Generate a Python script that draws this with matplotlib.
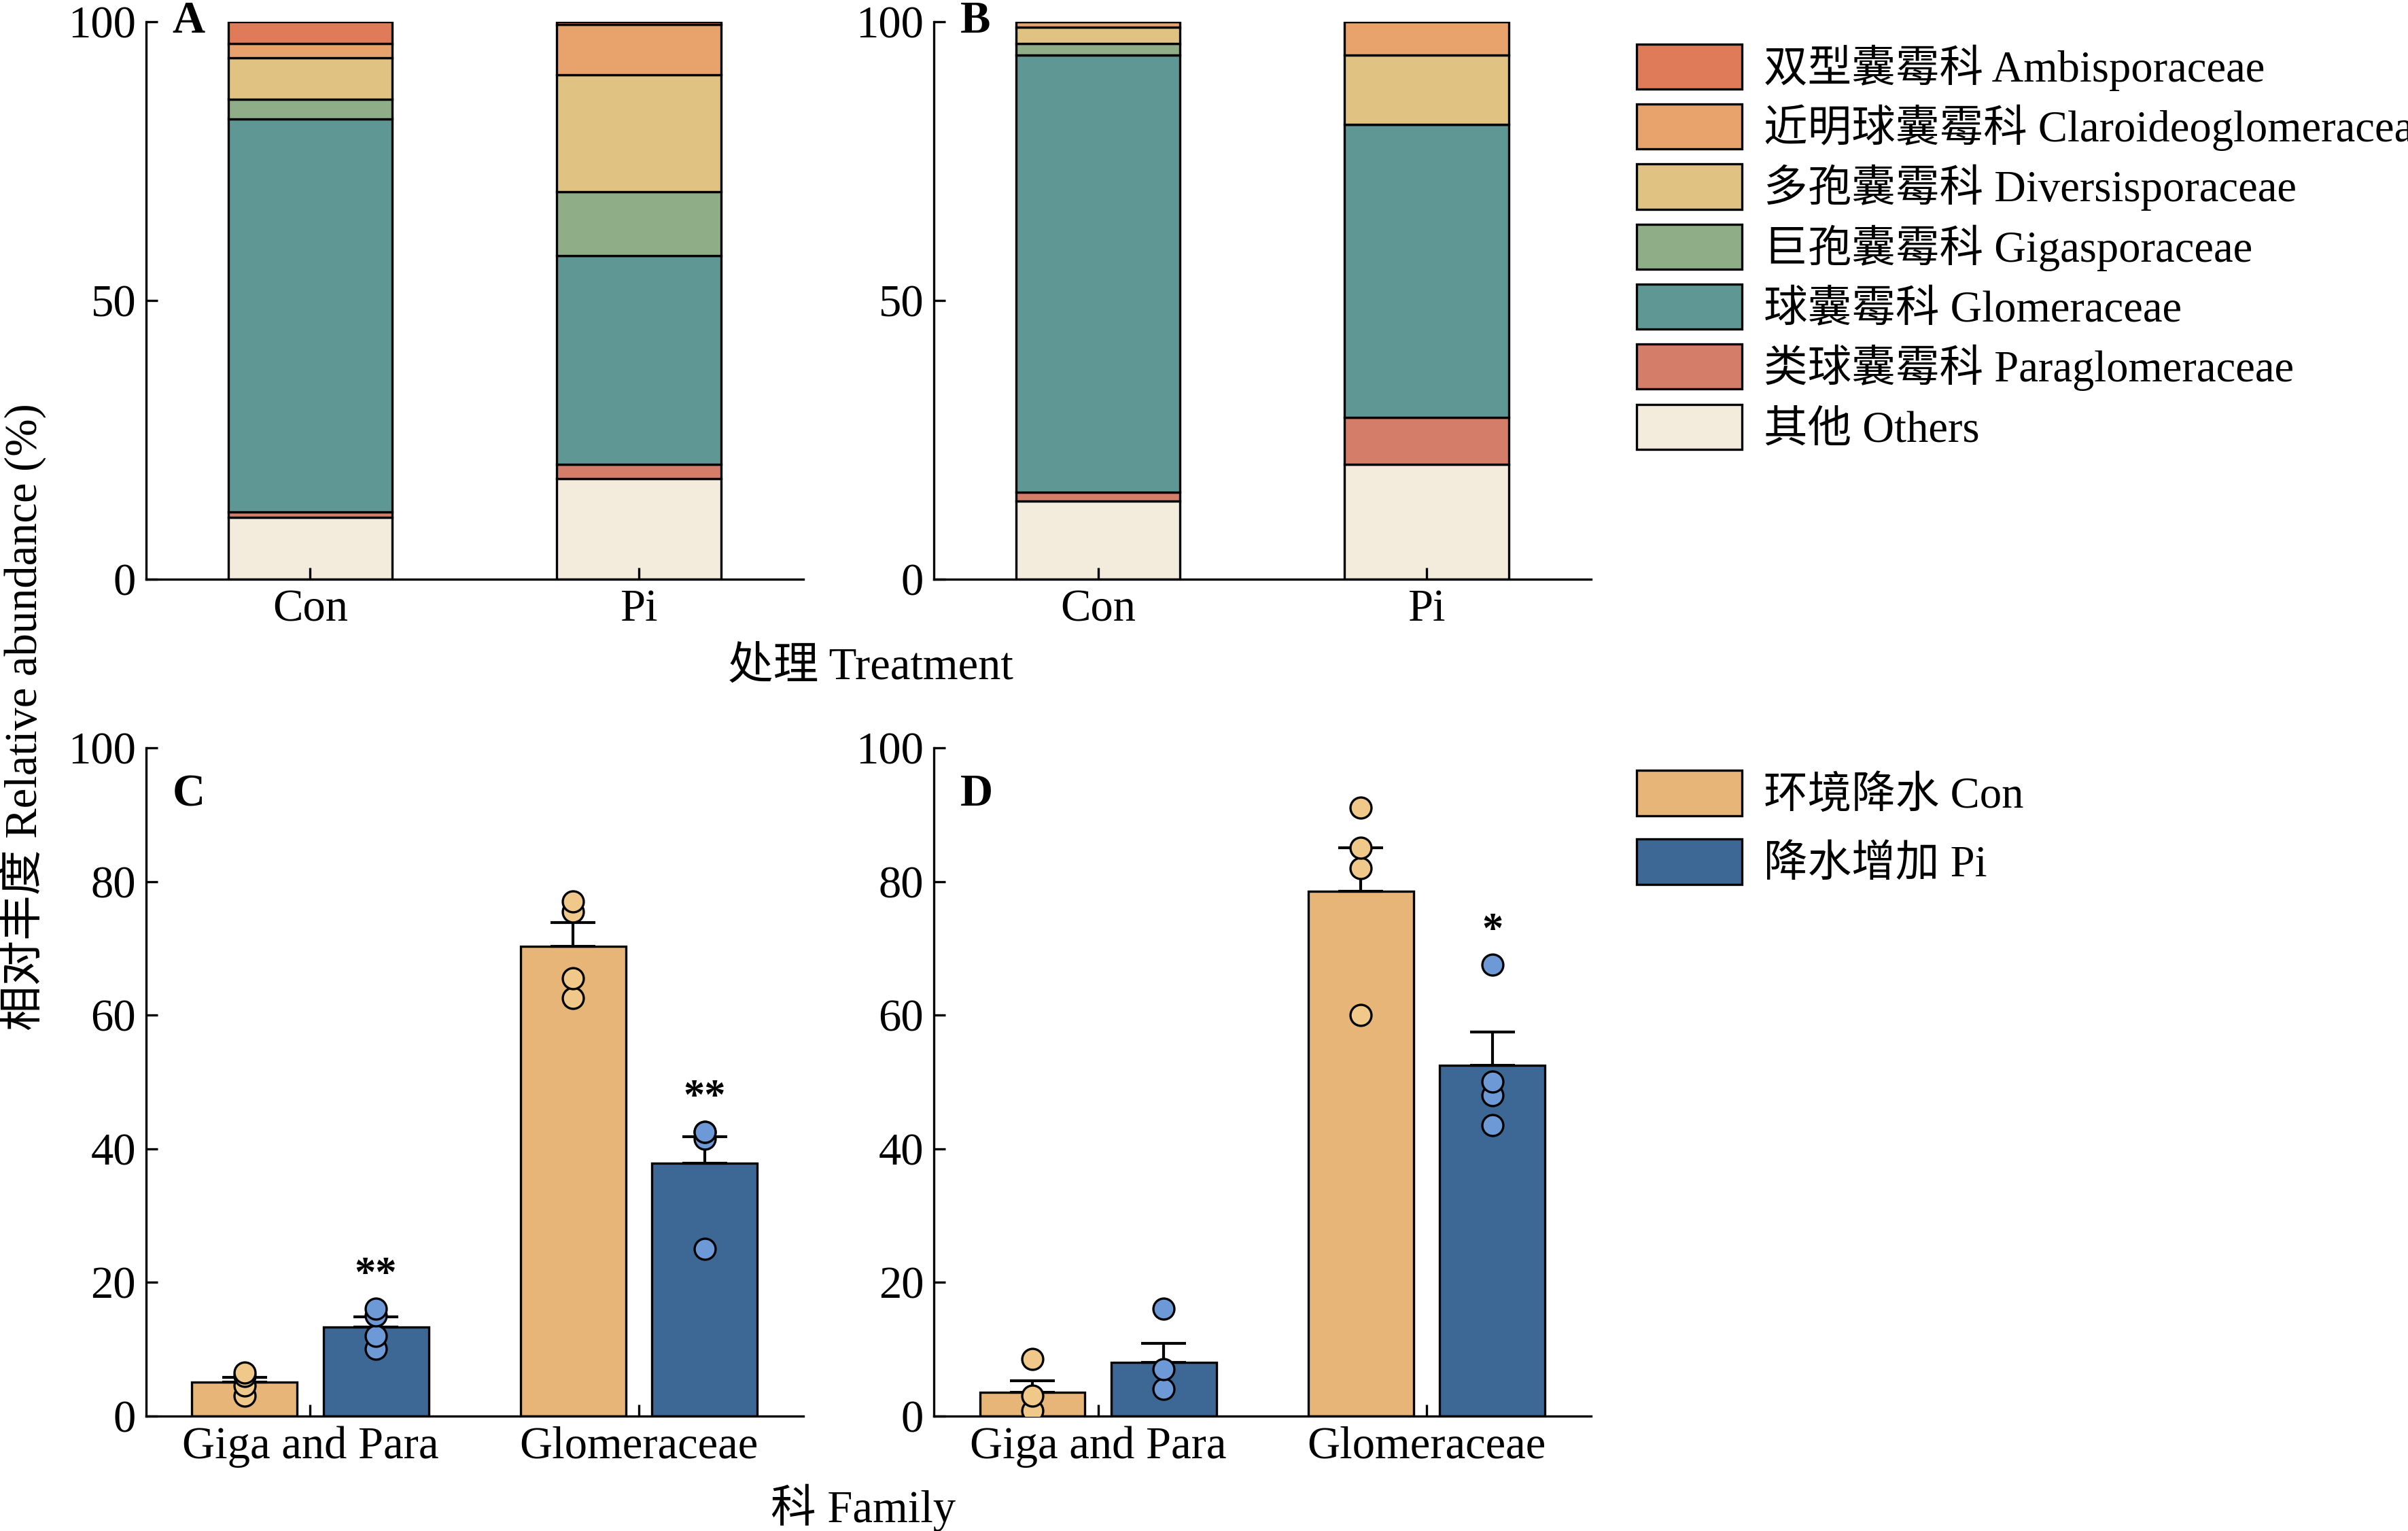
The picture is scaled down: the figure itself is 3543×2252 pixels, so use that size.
import numpy as np
import matplotlib.pyplot as plt

plt.rcParams['font.family'] = ['Liberation Serif', 'Noto Sans CJK SC']
plt.rcParams['font.size'] = 15

# stacked composition (bottom -> top)
families = ['其他 Others', '类球囊霉科 Paraglomeraceae', '球囊霉科 Glomeraceae',
            '巨孢囊霉科 Gigasporaceae', '多孢囊霉科 Diversisporaceae',
            '近明球囊霉科 Claroideoglomeraceae', '双型囊霉科 Ambisporaceae']
fam_colors = ['#f3ecdc', '#d47d69', '#5e9794', '#8fad87', '#e0c283', '#e8a36d', '#e07b5a']
treat = ['Con', 'Pi']
A_con = [11, 1, 70.5, 3.5, 7.5, 2.5, 4]
A_pi = [18, 2.5, 37.5, 11.5, 21, 9, 0.5]
B_con = [14, 1.5, 78.5, 2, 3, 1, 0]
B_pi = [20.5, 8.5, 52.5, 0, 12.5, 6, 0]

# family comparison
groups = ['Giga and Para', 'Glomeraceae']
C_con_mean = [5.0, 70.3]; C_con_err = [0.8, 3.5]
C_pi_mean = [13.3, 37.8]; C_pi_err = [1.5, 4.0]
C_con_pts = [[3, 4.5, 6, 6.5], [62.5, 65.5, 75.5, 77]]
C_pi_pts = [[10, 12, 15, 16], [25, 41.5, 42.5, 42.5]]
C_sig = ['**', '**']
D_con_mean = [3.5, 78.5]; D_con_err = [1.7, 6.5]
D_pi_mean = [8.0, 52.5]; D_pi_err = [2.8, 5.0]
D_con_pts = [[0.8, 3, 8.5], [60, 82, 85, 91]]
D_pi_pts = [[4, 7, 16], [43.5, 48, 50, 67.5]]
D_sig = ['', '*']

con_c, pi_c = '#e6b577', '#3d6896'
con_pt, pi_pt = '#f0c88a', '#6d9ad6'

fig = plt.figure(figsize=(3543 / 300, 2252 / 300), dpi=300)
W, H = 1568, 997
def ax_at(l, t, r, b):
    return fig.add_axes([l / W, 1 - b / H, (r - l) / W, (b - t) / H])

axA = ax_at(95, 14, 523, 377)
axB = ax_at(608, 14, 1036, 377)
axC = ax_at(95, 487, 523, 922)
axD = ax_at(608, 487, 1036, 922)

def style(ax):
    for s in ['top', 'right']:
        ax.spines[s].set_visible(False)
    ax.tick_params(direction='in', length=4, labelsize=16)
    ax.set_xlim(-0.5, 1.5)
    ax.set_ylim(0, 100)

for ax, con, pi, lab in [(axA, A_con, A_pi, 'A'), (axB, B_con, B_pi, 'B')]:
    x = np.arange(2)
    bottom = np.zeros(2)
    for i, (f, c) in enumerate(zip(families, fam_colors)):
        vals = np.array([con[i], pi[i]])
        ax.bar(x, vals, 0.5, bottom=bottom, color=c, edgecolor='black', linewidth=0.8, label=f)
        bottom += vals
    style(ax)
    ax.set_xticks(x, treat)
    ax.set_yticks([0, 50, 100])
    ax.text(-0.42, 100, lab, fontweight='bold', fontsize=16, va='center')

h, l = axA.get_legend_handles_labels()
fig.legend(h[::-1], l[::-1], loc='upper left', bbox_to_anchor=(1040 / W, 1 - 3 / H),
           frameon=False, handlelength=2.4, handleheight=1.2, labelspacing=0.3,
           handletextpad=0.5, fontsize=15.5)

for ax, cm, ce, pm, pe, cp, pp, sig, lab in [
        (axC, C_con_mean, C_con_err, C_pi_mean, C_pi_err, C_con_pts, C_pi_pts, C_sig, 'C'),
        (axD, D_con_mean, D_con_err, D_pi_mean, D_pi_err, D_con_pts, D_pi_pts, D_sig, 'D')]:
    x = np.arange(2)
    w = 0.32
    ax.bar(x - 0.2, cm, w, color=con_c, edgecolor='black', linewidth=0.8, label='环境降水 Con')
    ax.bar(x + 0.2, pm, w, color=pi_c, edgecolor='black', linewidth=0.8, label='降水增加 Pi')
    ax.errorbar(x - 0.2, cm, yerr=[np.zeros(2), ce], fmt='none', ecolor='black', elinewidth=1, capsize=8)
    ax.errorbar(x + 0.2, pm, yerr=[np.zeros(2), pe], fmt='none', ecolor='black', elinewidth=1, capsize=8)
    for i in range(2):
        ax.scatter([i - 0.2] * len(cp[i]), cp[i], s=55, color=con_pt, edgecolor='black', linewidth=0.8, zorder=3)
        ax.scatter([i + 0.2] * len(pp[i]), pp[i], s=55, color=pi_pt, edgecolor='black', linewidth=0.8, zorder=3)
        if sig[i]:
            top = max(pm[i] + pe[i], max(pp[i]))
            ax.text(i + 0.2, top + 2, sig[i], ha='center', va='bottom', fontsize=15, fontweight='bold')
    style(ax)
    ax.set_xticks(x, groups)
    ax.set_yticks([0, 20, 40, 60, 80, 100])
    ax.text(-0.42, 93, lab, fontweight='bold', fontsize=16, va='center')

h, l = axC.get_legend_handles_labels()
fig.legend(h, l, loc='upper left', bbox_to_anchor=(1040 / W, 1 - 476 / H),
           frameon=False, handlelength=2.4, handleheight=1.2, labelspacing=0.5,
           handletextpad=0.5, fontsize=15.5)

fig.text(15 / W, 1 - 467 / H, '相对丰度 Relative abundance (%)', rotation=90, ha='center', va='center', fontsize=16)
fig.text(567 / W, 1 - 435 / H, '处理 Treatment', ha='center', va='center', fontsize=16)
fig.text(562 / W, 1 - 982 / H, '科 Family', ha='center', va='center', fontsize=16)

fig.savefig('out.png', dpi=300)
